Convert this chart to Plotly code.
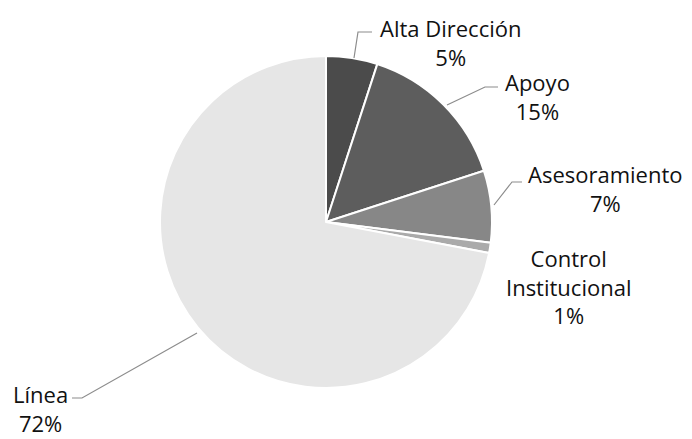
import math
import plotly.graph_objects as go

W, H = 692, 439

# ---- data ----
categories = ["Alta Dirección", "Apoyo", "Asesoramiento", "Control Institucional", "Línea"]
label_text = ["Alta Dirección", "Apoyo", "Asesoramiento", "Control<br>Institucional", "Línea"]
values = [5, 15, 7, 1, 72]
colors = ["#4b4b4b", "#5d5d5d", "#878787", "#aaaaaa", "#e6e6e6"]

# ---- layout (pixel) constants ----
cx, cy, R = 326, 222, 166
label_pos = [(450, 42), (537, 96), (605, 188), (568, 286), (40, 408)]
leaders = [
    [(354, 58), (358, 32), (372, 32)],
    [(447, 105), (485, 87), (498, 87)],
    [(494, 205), (512, 182), (522, 182)],
    None,
    [(197, 333), (82, 398), (72, 398)],
]


def px(x):
    return x / W


def py(y):
    return 1 - y / H


fig = go.Figure(
    go.Pie(
        labels=categories,
        values=values,
        sort=False,
        direction="clockwise",
        rotation=0,
        marker=dict(colors=colors, line=dict(color="white", width=2)),
        textinfo="none",
        hoverinfo="label+percent",
        domain=dict(x=[px(cx - R), px(cx + R)], y=[py(cy + R), py(cy - R)]),
        showlegend=False,
    )
)

total = sum(values)
annotations = []
for name, v, (lx, ly) in zip(label_text, values, label_pos):
    pct = round(100 * v / total)
    annotations.append(
        dict(
            x=px(lx), y=py(ly), xref="paper", yref="paper",
            text=f"{name}<br>{pct}%", showarrow=False,
            xanchor="center", yanchor="middle", align="center",
            font=dict(family="Open Sans", size=22, color="#111111"),
        )
    )

shapes = []
for pts in leaders:
    if not pts:
        continue
    path = "M " + " L ".join(f"{px(x)},{py(y)}" for x, y in pts)
    shapes.append(dict(type="path", path=path, xref="paper", yref="paper",
                       line=dict(color="#8c8c8c", width=1.2)))

fig.update_layout(
    width=W, height=H,
    margin=dict(l=0, r=0, t=0, b=0),
    paper_bgcolor="white", plot_bgcolor="white",
    annotations=annotations, shapes=shapes,
)

fig.write_html("out.html")
